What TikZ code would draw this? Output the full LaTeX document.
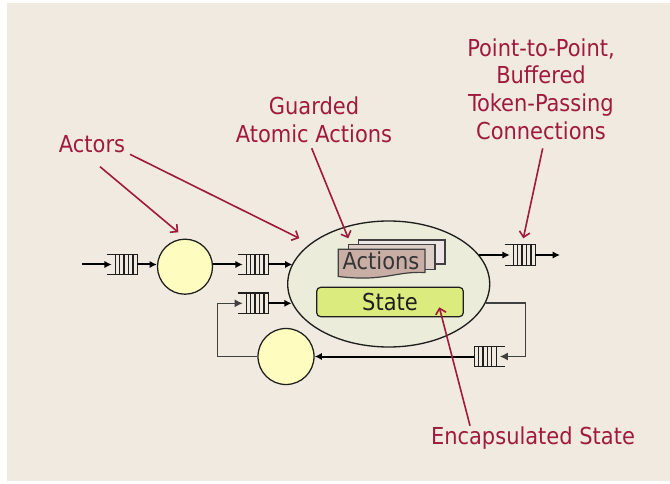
\documentclass[tikz,border=0pt]{standalone}
\usepackage{fontspec}
\setmainfont{DejaVu Sans Condensed}
\usetikzlibrary{arrows.meta,shapes.geometric,calc}
\definecolor{bgc}{HTML}{F0EAE0}
\definecolor{redc}{HTML}{A01A3E}
\definecolor{ellc}{HTML}{EBEDDA}
\definecolor{circc}{HTML}{FFFCC0}
\definecolor{statec}{HTML}{DCEB7E}
\definecolor{pagea}{HTML}{C8AEA4}
\definecolor{pageb}{HTML}{DDCEC8}
\definecolor{pagec}{HTML}{EEE6E4}
\definecolor{inkc}{HTML}{1E1E1E}
\newcommand\qopenL[1]{%
  \draw[qline] (#1.north west) -- (#1.north east) -- (#1.south east) -- (#1.south west);
  \foreach \f in {0.28,0.42,0.57,0.71,0.86}
    \draw[qline] ($(#1.north west)!\f!(#1.north east)$) -- ($(#1.south west)!\f!(#1.south east)$);}
\newcommand\qopenR[1]{%
  \draw[qline] (#1.north east) -- (#1.north west) -- (#1.south west) -- (#1.south east);
  \foreach \f in {0.14,0.29,0.43,0.57,0.72}
    \draw[qline] ($(#1.north west)!\f!(#1.north east)$) -- ($(#1.south west)!\f!(#1.south east)$);}
\begin{document}
\begin{tikzpicture}[x=0.75pt,y=-0.75pt,
  lbl/.style={text=redc,font=\fontsize{17.5}{20.8}\selectfont,inner sep=0pt,align=center},
  ann/.style={draw=redc,line width=1.2pt,-{Straight Barb[length=4pt,width=8pt]}},
  queue/.style={inner sep=0pt,minimum width=22.5pt,minimum height=15pt},
  qline/.style={draw=inkc,line width=1pt},
  arr/.style={draw=black,line width=1.5pt,-{Latex[length=5.5pt,width=5.5pt]}},
  thinarr/.style={draw=inkc!85,line width=1.1pt,-{Latex[length=6pt,width=6pt]}},
  actor/.style={circle,draw=inkc,line width=0.95pt,fill=circc,inner sep=0pt},
  pg/.style={draw=inkc!85,line width=0.9pt}]
\useasboundingbox (0,0) rectangle (670,484);
\fill[bgc] (7,3) rectangle (670,481);

% actors
\node[actor,minimum size=41.25pt] (a1) at (185,266.7) {};
\node[actor,minimum size=42pt] (a2) at (286,356.5) {};
\node[ellipse,draw=inkc,line width=1pt,fill=ellc,inner sep=0pt,
      minimum width=151.5pt,minimum height=94.5pt] (act) at (388.7,284) {};

% action pages
\path[pg,fill=pagec] (358.3,240) rectangle (445,264);
\path[pg,fill=pageb] (348.3,244.3) rectangle (435,269.3);
\path[pg,fill=pagea] (338.3,249.3) -- (425,249.3) -- (425,272.5)
   .. controls (395,271) and (385,282) .. (338.3,276.5) -- cycle;
\node[inner sep=0pt,text=inkc!90,font=\fontsize{17.5}{20.8}\selectfont] (actions) at (381,261.3) {Actions};

% state
\node[draw=inkc,line width=0.9pt,fill=statec,rounded corners=3pt,inner sep=0pt,
      minimum width=110pt,minimum height=22pt,text=inkc,
      font=\fontsize{17.5}{20.8}\selectfont] (state) at (390,302) {State};

% queues
\node[queue] (q1) at (122,264.5) {};
\node[queue] (q2) at (253,264.5) {};
\node[queue] (q3) at (253,303.3) {};
\node[queue] (q4) at (520,255) {};
\node[queue] (q5) at (489.5,356.5) {};
\qopenL{q1}\qopenL{q2}\qopenL{q3}\qopenL{q4}\qopenR{q5}

\coordinate (in0) at (82,264.5);
\coordinate (out0) at (560,255);
\coordinate (fbR) at (525.7,356.5);
\coordinate (fbL) at (217.3,303.3);

\draw[arr] (in0) -- ([xshift=3.75pt]q1.west);
\draw[arr] (q1.east) -- (q1.east -| a1.west);
\draw[arr] (a1.east |- q2.west) -- ([xshift=3.75pt]q2.west);
\draw[arr] (q2.east) -- (q2.east -| act.168);
\draw[arr] (q3.east) -- (q3.east -| act.191);
\draw[arr] (q4.west -| act.18) -- ([xshift=3.75pt]q4.west);
\draw[arr] (q4.east) -- (out0);
\draw[thinarr] (act.-11) -| (fbR) -- ([xshift=-3.75pt]q5.east);
\draw[arr] (q5.west) -- (q5.west -| a2.east);
\draw[thinarr] (a2.west) -| (fbL) -- ([xshift=3.75pt]q3.west);

% labels
\node[lbl,anchor=base] (lactors) at (92,152.3) {Actors};
\node[lbl,anchor=south] (lguard) at (314,142.7) {Guarded\\Atomic Actions};
\node[lbl,anchor=south] (lconn) at (541,140) {Point-to-Point,\\Buffered\\Token-Passing\\Connections};
\node[lbl,anchor=base] (lstate) at (533,444.3) {Encapsulated State};

\coordinate (s1) at (100,166.7);  \coordinate (t1) at (178.3,232.3);
\coordinate (s2) at (130,154.3);  \coordinate (t2) at (299.3,238.3);
\coordinate (s3) at (311.7,148.3); \coordinate (t3) at (348.3,238.3);
\coordinate (s4) at (542.7,148.3); \coordinate (t4) at (523.3,238.3);
\coordinate (s5) at (470,425.7);  \coordinate (t5) at (439.3,307.3);
\draw[ann] (s1) -- (t1);
\draw[ann] (s2) -- (t2);
\draw[ann] (s3) -- (t3);
\draw[ann] (s4) -- (t4);
\draw[ann] (s5) -- (t5);
\end{tikzpicture}
\end{document}
